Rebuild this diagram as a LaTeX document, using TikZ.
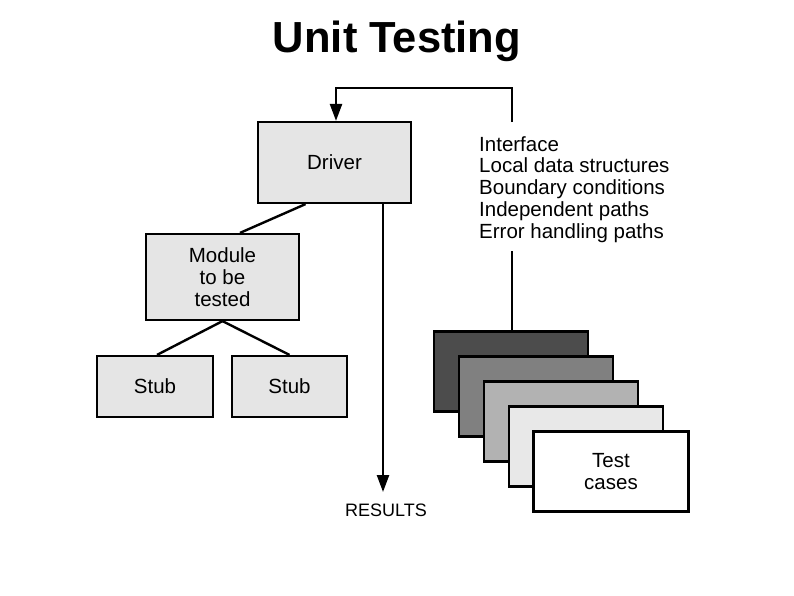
\documentclass[tikz,border=0pt]{standalone}
\usepackage{fontspec}
\setmainfont{Liberation Sans}
\usetikzlibrary{arrows.meta}
\begin{document}
\begin{tikzpicture}[x=1pt,y=-1pt,
  box/.style={draw=black,line width=2.2pt,fill=#1,inner sep=0pt,align=center,font=\fontsize{20.5}{22}\selectfont},
  box/.default={gray!20},
  conn/.style={line width=2.4pt},
  arr/.style={line width=2.4pt,-{Triangle[length=17pt,width=12pt]}},
  lbl/.style={font=\fontsize{20}{22}\selectfont,inner sep=0pt}]
\useasboundingbox[fill=white] (0,0) rectangle (794,595);
\node[font=\bfseries\fontsize{43.5}{46}\selectfont] (title) at (397,41) {Unit Testing};
% boxes
\node[box,minimum width=153pt,minimum height=81pt] (driver) at (334.5,162.5) {Driver};
\node[box,minimum width=153pt,minimum height=86pt] (module) at (222.5,277) {Module\\to be\\tested};
\node[box,minimum width=116pt,minimum height=61pt] (stub1) at (155,386.5) {Stub};
\node[box,minimum width=115pt,minimum height=61pt] (stub2) at (289.5,386.5) {Stub};
% test cases
\node[box=black!70,minimum width=154pt,minimum height=80pt] (tc1) at (511,371.5) {};
\node[box=black!50,minimum width=154pt,minimum height=80pt] (tc2) at (536,396.5) {};
\node[box=black!30,minimum width=154pt,minimum height=80pt] (tc3) at (561,421.5) {};
\node[box=black!9,minimum width=154pt,minimum height=80pt] (tc4) at (586,446.5) {};
\node[box=white,minimum width=155pt,minimum height=80pt] (tc5) at (611,471.5) {Test\\cases};
% list text
\node[lbl,anchor=north west,align=left,font=\fontsize{20.5}{21.8}\selectfont] (list) at (479,136) {Interface\\Local data structures\\Boundary conditions\\Independent paths\\Error handling paths};
\node[lbl,font=\fontsize{18}{20}\selectfont] (results) at (386,510) {RESULTS};
% connectors
\coordinate (fbtop) at (512,122);
\coordinate (fbr) at (512,88);
\coordinate (fbl) at (336,88);
\coordinate (lbot) at (512,251);
\coordinate (rend) at (383,492);
\draw[arr] (fbtop) -- (fbr) -- (fbl) -- (driver.north -| fbl);
\draw[conn] (lbot) -- (tc1.north -| lbot);
\draw[conn] ([xshift=-29pt]driver.south) -- ([xshift=17.5pt]module.north);
\draw[conn] (module.south) -- ([xshift=2pt]stub1.north);
\draw[conn] (module.south) -- (stub2.north);
\draw[arr] (driver.south -| rend) -- (rend);
\end{tikzpicture}
\end{document}
